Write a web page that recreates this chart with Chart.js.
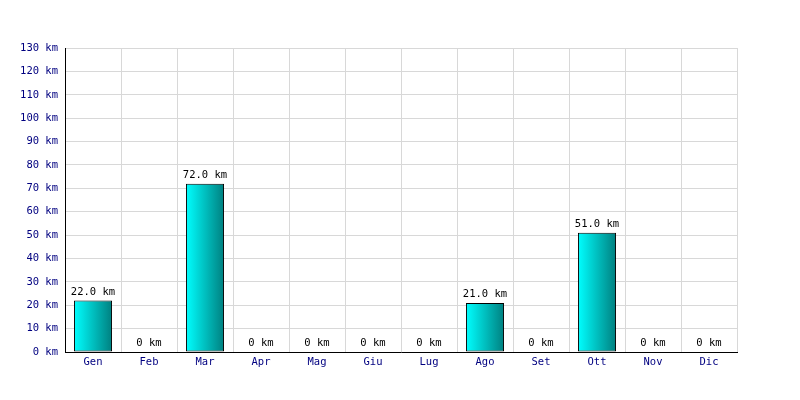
<!DOCTYPE html>
<html>
<head>
<meta charset="utf-8">
<script src="https://cdn.jsdelivr.net/npm/chart.js@4"></script>
<style>
  html, body { margin: 0; padding: 0; background: #fff; }
  canvas { display: block; }
</style>
</head>
<body>
<canvas id="chart" width="800" height="400"></canvas>
<script>
"use strict";
const months = ["Gen", "Feb", "Mar", "Apr", "Mag", "Giu", "Lug", "Ago", "Set", "Ott", "Nov", "Dic"];
const distances = [22, 0, 72, 0, 0, 0, 0, 21, 0, 51, 0, 0];
const yMax = 130;
const yStep = 10;

const FONT = "'DejaVu Sans Mono', monospace";
const BAR_PCT = 0.68;

// cyan -> teal gradient across each bar
function barGradient(c) {
  const chart = c.chart;
  const x = chart.scales.x;
  if (!x || !chart.chartArea) return "#00c0c0";
  const cx = x.getPixelForValue(c.dataIndex);
  const w = (x.width / months.length) * BAR_PCT;
  const g = chart.ctx.createLinearGradient(cx - w / 2, 0, cx + w / 2, 0);
  g.addColorStop(0, "#00ffff");
  g.addColorStop(1, "#008080");
  return g;
}

const valueLabels = {
  id: "valueLabels",
  afterDatasetsDraw(chart) {
    const ctx = chart.ctx;
    const meta = chart.getDatasetMeta(0);
    ctx.save();
    ctx.font = "10.5px " + FONT;
    ctx.fillStyle = "#000";
    ctx.textAlign = "center";
    ctx.textBaseline = "alphabetic";
    meta.data.forEach((bar, i) => {
      const v = distances[i];
      const txt = v === 0 ? "0 km" : v.toFixed(1) + " km";
      ctx.fillText(txt, bar.x, bar.y - 6);
    });
    ctx.restore();
  },
};

new Chart(document.getElementById("chart"), {
  type: "bar",
  data: {
    labels: months,
    datasets: [
      {
        data: distances,
        backgroundColor: barGradient,
        borderColor: "#000",
        borderWidth: 1,
        borderSkipped: false,
        categoryPercentage: 1,
        barPercentage: BAR_PCT,
      },
    ],
  },
  options: {
    responsive: false,
    animation: false,
    layout: { padding: { left: 0, top: 48, right: 63, bottom: 0 } },
    plugins: {
      legend: { display: false },
      tooltip: { enabled: false },
    },
    scales: {
      x: {
        grid: { color: "#d8d8d8", drawTicks: false, offset: true },
        border: { color: "#000", width: 1 },
        ticks: { color: "#000080", font: { family: FONT, size: 10.5 }, padding: 4 },
        afterFit: (s) => { s.height = 48; },
      },
      y: {
        min: 0,
        max: yMax,
        grid: { color: "#d8d8d8", drawTicks: false },
        border: { color: "#000", width: 1 },
        ticks: {
          stepSize: yStep,
          color: "#000080",
          font: { family: FONT, size: 10.5 },
          padding: 7,
          callback: (v) => v + " km",
        },
        afterFit: (s) => { s.width = 65; },
      },
    },
  },
  plugins: [valueLabels],
});
</script>
</body>
</html>
